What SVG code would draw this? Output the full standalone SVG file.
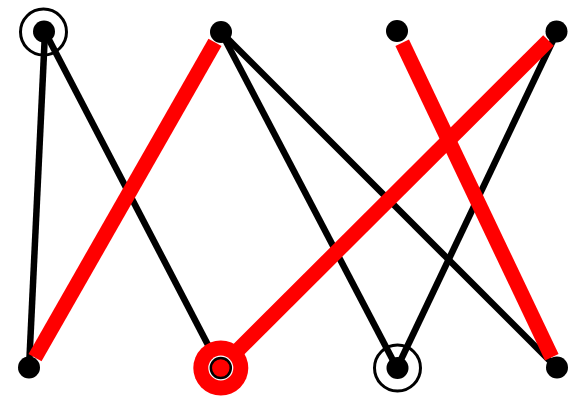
<svg xmlns="http://www.w3.org/2000/svg" width="573" height="396" viewBox="0 0 573 396">
<style>
.e{stroke:#000;stroke-width:6.5;fill:none}
.r{stroke:#ff0000;stroke-width:15;fill:none}
.d{fill:#000}
.ring{fill:none;stroke:#000;stroke-width:3}
</style>
<rect width="573" height="396" fill="#fff"/>
<g id="connectors">
<line class="e" x1="45" y1="32" x2="29" y2="368"/>
<line class="e" x1="45" y1="32" x2="220" y2="368"/>
<line class="e" x1="221" y1="32" x2="397" y2="368"/>
<line class="e" x1="221" y1="32" x2="557" y2="368"/>
<line class="e" x1="557" y1="32" x2="397" y2="368"/>
<line class="r" x1="215" y1="42.4" x2="35" y2="357.6"/>
<line class="r" x1="402.2" y1="42.8" x2="551.8" y2="357.2"/>
<line class="r" x1="548.5" y1="40.5" x2="220" y2="368"/>
</g>
<g id="n1"><circle class="ring" cx="43.5" cy="32" r="23"/><circle class="d" cx="44" cy="31.5" r="11"/></g>
<g id="n2"><circle class="d" cx="221" cy="32" r="11"/></g>
<g id="n3"><circle class="d" cx="397" cy="31" r="11"/></g>
<g id="n4"><circle class="d" cx="556.5" cy="31.5" r="11"/></g>
<g id="n5"><circle class="d" cx="29" cy="367.5" r="11"/></g>
<g id="n6"><circle fill="#ff0000" cx="220.8" cy="368" r="27.5"/><circle fill="#fff" cx="220.8" cy="368" r="12.5"/><circle fill="#ff0000" stroke="#000" stroke-width="2.5" cx="220.8" cy="368" r="10"/></g>
<g id="n7"><circle class="ring" cx="397.5" cy="368" r="23"/><circle class="d" cx="397.5" cy="368" r="11"/></g>
<g id="n8"><circle class="d" cx="557" cy="367.5" r="11"/></g>
</svg>
